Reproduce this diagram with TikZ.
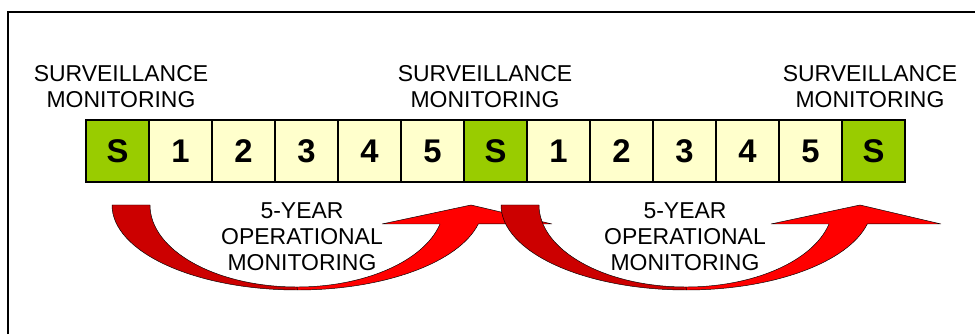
\documentclass[tikz,border=0pt]{standalone}
\usepackage{fontspec}
\setmainfont{Liberation Sans}
\usepackage{xcolor}
\definecolor{gruen}{RGB}{153,204,0}
\definecolor{hellgelb}{RGB}{255,255,204}
\definecolor{dunkelrot}{RGB}{204,0,0}
\definecolor{rot}{RGB}{255,0,0}
\newcommand{\px}{0.03cm}
\tikzset{
  jahr/.style={draw=black, line width=1.3pt, minimum width=1.89cm, minimum height=1.86cm,
    inner sep=0pt, outer sep=0pt, font=\fontsize{28}{30}\selectfont\bfseries},
  schrift/.style={align=center, inner sep=0pt, font=\fontsize{19.6}{22.2}\selectfont},
  pfeil/.style={draw=black, line width=0.4pt, line join=round}
}
\begin{document}
\begin{tikzpicture}[x=\px, y=\px]
        \useasboundingbox (0,0) rectangle (975,334);

        % Rahmen
        \draw[line width=1.8pt] (8,0) -- (8,322) -- (975,322);

        % Gebogene Pfeile (zweiter um 389 verschoben)
        \foreach \d in {0,389} {
          \begin{scope}[shift={(\d,0)}]
            % linke Haelfte, dunkelrot
            \filldraw[pfeil, fill=dunkelrot] (112,129)
              arc[start angle=180, end angle=270, x radius=185.5*\px, y radius=85*\px]
              -- (297,47)
              arc[start angle=270, end angle=180, x radius=147*\px, y radius=82*\px] -- cycle;
            % rechte Haelfte mit Spitze, rot
            \filldraw[pfeil, fill=rot] (297.5,44)
              arc[start angle=270, end angle=347.1, x radius=185.5*\px, y radius=85*\px]
              -- (552,110) -- (471,129) -- (382,110) -- (440,110)
              arc[start angle=346.6, end angle=270, x radius=147*\px, y radius=82*\px] -- cycle;
          \end{scope}
        }

        % Jahre
        \foreach \lbl/\farbe [count=\i from 0] in {S/gruen,1/hellgelb,2/hellgelb,3/hellgelb,4/hellgelb,5/hellgelb,
            S/gruen,1/hellgelb,2/hellgelb,3/hellgelb,4/hellgelb,5/hellgelb,S/gruen}
          \node[jahr, fill=\farbe] (box\i) at (117.5+63*\i,183) {\lbl};

        % Beschriftungen
        \node[schrift] (surv0) at (121,247) {SURVEILLANCE\\MONITORING};
        \node[schrift] (surv1) at (485,247) {SURVEILLANCE\\MONITORING};
        \node[schrift] (surv2) at (870,247) {SURVEILLANCE\\MONITORING};

        \node[schrift] (betrieb0) at (302,97) {5-YEAR\\OPERATIONAL\\MONITORING};
        \node[schrift] (betrieb1) at (685,97) {5-YEAR\\OPERATIONAL\\MONITORING};
\end{tikzpicture}
\end{document}
